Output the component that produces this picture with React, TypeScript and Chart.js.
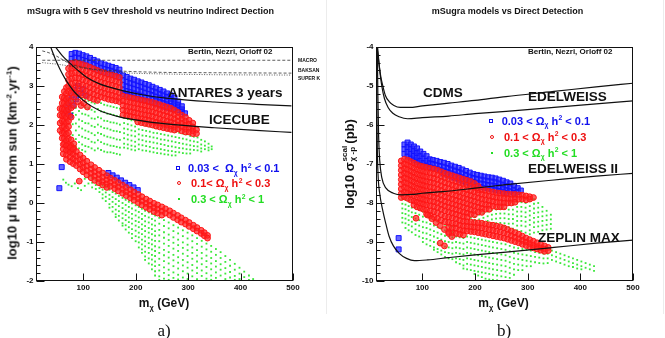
import React, { useEffect, useRef } from 'react';
import { Chart, registerables } from 'chart.js';

Chart.register(...registerables);

type Pt = [number, number];
type Col = [number, number[]];

/* ---------------- panel a: muon flux from the Sun ---------------- */
const massMinA = 10;
const massMax = 500;
const fluxMin = -2;
const fluxMax = 4;
const massTicks = [100, 200, 300, 400, 500];
const fluxTicks = [4, 3, 2, 1, 0, -1, -2];

const antares: Pt[] = [[47, 4.0], [60, 3.78], [73.5, 3.6], [90, 3.4], [105, 3.24], [130, 3.06], [150, 2.97], [175, 2.88], [215, 2.77], [258, 2.69], [350, 2.59], [430, 2.53], [497, 2.49]];
const icecube: Pt[] = [[38, 4.0], [46, 3.72], [55, 3.45], [64, 3.22], [73, 3.03], [85, 2.82], [105, 2.58], [130, 2.38], [169, 2.21], [215, 2.1], [258, 2.03], [350, 1.93], [430, 1.86], [497, 1.81]];
const macro: Pt[] = [[22, 3.66], [497, 3.66]];
const baksan: Pt[] = [[22, 3.9], [35, 3.85], [50, 3.76], [65, 3.64], [81, 3.54], [110, 3.45], [140, 3.41], [176, 3.38], [250, 3.35], [350, 3.34], [497, 3.33]];
const superK: Pt[] = [[22, 3.6], [35, 3.58], [50, 3.56], [65, 3.53], [81, 3.5], [110, 3.44], [140, 3.38], [176, 3.34], [250, 3.31], [350, 3.29], [497, 3.28]];

// 0.03 < Omega h^2 < 0.1
const fluxBlue: Col[] = [
  [78, [3.82, 3.7, 3.58]], [85, [3.85, 3.73, 3.61]], [92, [3.83, 3.71, 3.58]], [99, [3.79, 3.67, 3.55]],
  [106, [3.76, 3.64, 3.52]], [113, [3.72, 3.6, 3.49]], [120, [3.67, 3.56, 3.45]], [127, [3.63, 3.52, 3.41]],
  [134, [3.58, 3.47, 3.37]], [141, [3.55, 3.44, 3.34]], [148, [3.52, 3.41, 3.31]], [155, [3.49, 3.39, 3.29]],
  [162, [3.46, 3.35, 3.25]], [169, [3.42, 3.32, 3.22]],
  [176, [3.27, 3.15, 3.03, 2.91, 2.79]], [183, [3.23, 3.11, 2.99, 2.87, 2.76]], [190, [3.19, 3.07, 2.96, 2.84, 2.73]],
  [197, [3.16, 3.04, 2.93, 2.81, 2.7]], [204, [3.12, 3.01, 2.9, 2.78, 2.67]], [211, [3.09, 2.98, 2.86, 2.75, 2.64]],
  [218, [3.05, 2.94, 2.83, 2.72, 2.62]], [225, [3.02, 2.91, 2.8, 2.69, 2.59]], [232, [2.98, 2.87, 2.77, 2.66, 2.56]],
  [239, [2.94, 2.84, 2.73, 2.63, 2.53]], [246, [2.9, 2.8, 2.7, 2.6, 2.5]], [253, [2.86, 2.76, 2.66, 2.56, 2.47]],
  [260, [2.81, 2.72, 2.62, 2.53, 2.44]], [267, [2.76, 2.67, 2.58, 2.49, 2.41]], [274, [2.7, 2.61, 2.53, 2.45, 2.38]],
  [281, [2.6, 2.52, 2.45, 2.38]], [288, [2.48, 2.4, 2.33]], [294, [2.3]],
];
const fluxBlueLoose: Pt[] = [
  [68, 2.3], [70, 2.46], [72, 2.62], [75, 2.24], [78, 2.76], [80, 2.5], [83, 2.9], [86, 2.66], [90, 3.0], [95, 2.82],
  [100, 2.92], [106, 2.76], [148, 0.77], [156, 0.71], [164, 0.65], [172, 0.58], [180, 0.52], [188, 0.46], [196, 0.4],
  [204, 0.33], [59, 0.92], [54.5, 0.38],
];

// 0.1 < Omega h^2 < 0.3
const fluxRed: Col[] = [
  [72, [3.45, 3.3, 3.15]], [78, [3.58, 3.45, 3.32, 3.19, 3.06, 2.93]], [85, [3.6, 3.47, 3.34, 3.21, 3.08, 2.95, 2.82]],
  [92, [3.58, 3.45, 3.32, 3.2, 3.06, 2.93, 2.8]], [99, [3.55, 3.42, 3.29, 3.16, 3.03, 2.9, 2.77]],
  [106, [3.52, 3.39, 3.26, 3.13, 3.0, 2.87, 2.74]], [113, [3.48, 3.35, 3.22, 3.09, 2.96, 2.83, 2.7]],
  [120, [3.44, 3.31, 3.18, 3.05, 2.92, 2.79, 2.66]], [127, [3.4, 3.27, 3.14, 3.01, 2.88, 2.75, 2.63]],
  [134, [3.36, 3.23, 3.1, 2.97, 2.84, 2.72]], [141, [3.33, 3.2, 3.07, 2.94, 2.81, 2.69]],
  [148, [3.3, 3.17, 3.04, 2.91, 2.78, 2.66]], [155, [3.28, 3.15, 3.02, 2.89, 2.76, 2.64]],
  [162, [3.25, 3.12, 2.99, 2.86, 2.73, 2.62]], [169, [3.22, 3.09, 2.96, 2.83, 2.7, 2.6]],
  [176, [2.74, 2.62, 2.5, 2.38, 2.26]], [183, [2.72, 2.6, 2.48, 2.36, 2.24]], [190, [2.7, 2.58, 2.46, 2.34, 2.22]],
  [197, [2.68, 2.56, 2.44, 2.32, 2.2]], [204, [2.66, 2.54, 2.42, 2.3, 2.18, 2.08]], [211, [2.64, 2.52, 2.4, 2.28, 2.16, 2.06]],
  [218, [2.62, 2.5, 2.38, 2.26, 2.14, 2.04]], [225, [2.6, 2.48, 2.36, 2.24, 2.12, 2.02]], [232, [2.58, 2.46, 2.34, 2.22, 2.1, 2.0]],
  [239, [2.55, 2.43, 2.31, 2.19, 2.07, 1.97]], [246, [2.52, 2.4, 2.28, 2.16, 2.05, 1.95]], [253, [2.49, 2.37, 2.25, 2.13, 2.02, 1.93]],
  [260, [2.46, 2.34, 2.22, 2.1, 2.0, 1.91]], [267, [2.43, 2.31, 2.19, 2.08, 1.98, 1.89]], [274, [2.38, 2.27, 2.16, 2.05, 1.95, 1.87]],
  [281, [2.32, 2.21, 2.1, 2.0, 1.9]], [288, [2.25, 2.15, 2.05, 1.95, 1.85]], [295, [2.2, 2.1, 2.0, 1.9, 1.82]],
  [302, [2.12, 2.02, 1.92, 1.82]], [309, [2.05, 1.95, 1.85, 1.78]], [316, [1.88, 1.78]],
  [56, [2.42, 2.25, 2.05, 1.86]], [60, [2.72, 2.56, 2.41, 2.24, 2.1, 1.94, 1.79, 1.66]],
  [64, [2.86, 2.7, 2.56, 2.4, 2.26, 2.1, 1.96, 1.8, 1.66, 1.52]],
  [68, [2.96, 2.81, 2.66, 2.5, 2.36, 2.2, 2.06, 1.9, 1.76, 1.6, 1.46]],
  [72, [3.0, 2.86, 2.7, 2.56, 2.4, 2.26, 2.1, 1.96, 1.8, 1.65, 1.5, 1.38]],
  [77, [2.82, 2.62, 2.44, 2.2, 1.62, 1.46, 1.34]], [82, [2.72, 2.5, 1.52, 1.4]],
  [62, [1.5, 1.38, 1.26]], [68, [1.47, 1.35, 1.23, 1.12]], [75, [1.42, 1.3, 1.18, 1.06]], [81, [1.37, 1.25, 1.13, 1.01]],
  [87, [1.32, 1.2, 1.08, 0.96]], [94, [1.23, 1.11, 0.99, 0.87]], [100, [1.15, 1.03, 0.91, 0.8]], [107, [1.07, 0.95, 0.83, 0.72]],
  [115, [0.98, 0.87, 0.76, 0.65]], [122, [0.91, 0.8, 0.69, 0.58]], [130, [0.84, 0.73, 0.62, 0.52]], [137, [0.77, 0.66, 0.55, 0.46]],
  [145, [0.7, 0.59, 0.49, 0.4]], [152, [0.64, 0.53, 0.43]], [160, [0.58, 0.47, 0.37]], [167, [0.52, 0.41, 0.31]],
  [175, [0.46, 0.35, 0.25]], [182, [0.4, 0.29, 0.19]], [190, [0.34, 0.23, 0.13]], [197, [0.28, 0.17, 0.07]],
  [205, [0.22, 0.11, 0.01]], [212, [0.16, 0.05, -0.05]], [220, [0.1, -0.01, -0.11]], [227, [0.05, -0.06, -0.16]],
  [235, [-0.01, -0.12, -0.22]], [242, [-0.05, -0.16, -0.26]], [250, [-0.1, -0.21, -0.31]], [257, [-0.15, -0.26]],
  [265, [-0.2, -0.31]], [272, [-0.26, -0.37]], [280, [-0.32, -0.43]], [287, [-0.38, -0.49]], [295, [-0.44, -0.54]],
  [302, [-0.5, -0.6]], [310, [-0.57, -0.66]], [317, [-0.63, -0.72]], [325, [-0.7, -0.78]], [331, [-0.76, -0.84]],
  [337, [-0.83, -0.9]],
];
const fluxRedLoose: Pt[] = [[90, 2.6], [96, 2.5], [101, 2.56], [108, 2.46], [92.5, 0.56]];

// 0.3 < Omega h^2 < 1
const fluxGreen: Col[] = [
  [80, [2.9, 2.62, 2.31, 2.02, 1.74, 1.5]], [86, [2.84, 2.66, 2.44, 2.26, 2.04, 1.86, 1.64, 1.45]],
  [92, [2.76, 2.54, 2.36, 2.14, 1.96, 1.74, 1.56, 1.4]], [98, [2.7, 2.51, 2.29, 2.1, 1.91, 1.7, 1.5, 1.36]],
  [104, [2.66, 2.45, 2.27, 2.05, 1.86, 1.67, 1.46, 1.32]], [110, [2.62, 2.43, 2.24, 2.04, 1.83, 1.64, 1.44]],
  [116, [2.58, 2.39, 2.17, 1.98, 1.79, 1.57, 1.4]], [122, [2.55, 2.34, 2.16, 1.95, 1.74, 1.55, 1.35]],
  [128, [2.6, 2.41, 2.2, 2.01, 1.8, 1.61, 1.4]], [134, [2.56, 2.35, 2.17, 1.96, 1.77, 1.56, 1.36]],
  [140, [2.52, 2.33, 2.11, 1.92, 1.73, 1.52, 1.32]], [146, [2.5, 2.29, 2.1, 1.91, 1.7, 1.5, 1.3]],
  [152, [2.48, 2.28, 2.07, 1.88, 1.68, 1.47, 1.3]], [158, [2.46, 2.26, 2.06, 1.85, 1.66, 1.46, 1.28]],
  [164, [2.44, 2.23, 2.04, 1.84, 1.63, 1.44, 1.26]], [170, [2.42, 2.22, 2.01, 1.82, 1.62, 1.42, 1.24]],
  [178, [2.18, 2.05, 1.91, 1.79, 1.66, 1.52, 1.42]], [185, [2.15, 2.02, 1.89, 1.75, 1.63, 1.5, 1.4]],
  [192, [2.12, 1.99, 1.86, 1.73, 1.6, 1.47, 1.37]], [199, [2.1, 1.96, 1.84, 1.71, 1.57, 1.45, 1.35]],
  [206, [2.02, 1.89, 1.76, 1.63, 1.5, 1.38]], [213, [2.0, 1.87, 1.73, 1.61, 1.48, 1.35]],
  [220, [1.98, 1.85, 1.72, 1.58, 1.46, 1.34]], [227, [1.96, 1.83, 1.7, 1.57, 1.44, 1.32]],
  [234, [1.94, 1.8, 1.68, 1.55, 1.41, 1.3]], [241, [1.92, 1.79, 1.66, 1.53, 1.4, 1.28]],
  [248, [1.9, 1.77, 1.63, 1.51, 1.38, 1.27]], [255, [1.88, 1.75, 1.62, 1.49, 1.36, 1.25]],
  [262, [1.86, 1.73, 1.6, 1.46, 1.34, 1.24]], [269, [1.84, 1.71, 1.58, 1.45, 1.33, 1.22]],
  [276, [1.82, 1.69, 1.56, 1.43, 1.31, 1.22]], [283, [1.8, 1.67, 1.54, 1.41, 1.3]],
  [290, [1.78, 1.65, 1.52, 1.4, 1.28]], [297, [1.76, 1.63, 1.5, 1.38, 1.27]], [304, [1.72, 1.6, 1.48, 1.37, 1.27]],
  [311, [1.7, 1.58, 1.46, 1.36]], [318, [1.68, 1.56, 1.45, 1.35]], [325, [1.62, 1.5, 1.4, 1.32]],
  [332, [1.58, 1.47, 1.38]], [339, [1.52, 1.42, 1.35]], [345, [1.45, 1.38]],
  [62, [0.6]], [67, [0.52]], [72, [0.47]], [78, [0.43]], [84, [0.5]], [90, [0.38]], [96, [0.33]],
  [103, [0.62, 0.44]], [110, [0.66, 0.5]], [117, [0.64, 0.52, 0.4]], [124, [0.58, 0.46, 0.36]],
  [131, [0.5, 0.38, 0.28]], [137, [0.45, 0.34, 0.22, 0.12]], [143, [0.4, 0.27, 0.16, 0.05]],
  [150, [0.34, 0.21, 0.1, -0.03, -0.12]], [156, [0.28, 0.15, 0.03, -0.1, -0.22]],
  [162, [0.24, 0.1, -0.03, -0.17, -0.29, -0.36]], [168, [0.18, 0.05, -0.08, -0.21, -0.33, -0.45]],
  [175, [0.13, 0.0, -0.13, -0.27, -0.39, -0.52, -0.58]], [181, [0.08, -0.05, -0.19, -0.31, -0.44, -0.57, -0.68]],
  [187, [0.03, -0.1, -0.23, -0.37, -0.49, -0.62, -0.76]], [193, [-0.01, -0.14, -0.28, -0.4, -0.53, -0.67, -0.79, -0.9]],
  [200, [-0.06, -0.19, -0.32, -0.46, -0.58, -0.71, -0.85, -0.98]],
  [206, [-0.1, -0.23, -0.37, -0.49, -0.62, -0.76, -0.88, -1.01, -1.14]],
  [212, [-0.15, -0.28, -0.41, -0.55, -0.67, -0.8, -0.94, -1.06, -1.19, -1.28]],
  [218, [-0.2, -0.33, -0.47, -0.59, -0.72, -0.86, -0.98, -1.11, -1.25, -1.37, -1.46]],
  [225, [-0.24, -0.37, -0.5, -0.64, -0.76, -0.89, -1.03, -1.15, -1.28, -1.42, -1.55]],
  [231, [-0.28, -0.41, -0.55, -0.67, -0.8, -0.94, -1.06, -1.19, -1.33, -1.45, -1.58, -1.7]],
  [237, [-0.32, -0.45, -0.58, -0.72, -0.84, -0.97, -1.11, -1.23, -1.36, -1.5, -1.62, -1.75, -1.86]],
  [245, [-0.38, -0.53, -0.69, -0.83, -0.98, -1.14, -1.28, -1.43, -1.59, -1.73, -1.88, -1.97]],
  [254, [-0.44, -0.59, -0.75, -0.89, -1.04, -1.2, -1.34, -1.49, -1.65, -1.79, -1.94]],
  [263, [-0.5, -0.65, -0.81, -0.95, -1.1, -1.26, -1.4, -1.55, -1.71, -1.85, -1.97]],
  [272, [-0.57, -0.72, -0.88, -1.02, -1.17, -1.33, -1.47, -1.62, -1.78, -1.92]],
  [281, [-0.63, -0.78, -0.94, -1.08, -1.23, -1.39, -1.53, -1.68, -1.84, -1.96]],
  [290, [-0.7, -0.85, -1.01, -1.15, -1.3, -1.46, -1.6, -1.75, -1.91]],
  [299, [-0.76, -0.91, -1.07, -1.21, -1.36, -1.52, -1.66, -1.81, -1.95]],
  [308, [-0.83, -0.98, -1.14, -1.28, -1.43, -1.59, -1.73, -1.88]],
  [317, [-0.9, -1.05, -1.21, -1.35, -1.5, -1.66, -1.8, -1.95]],
  [326, [-0.97, -1.12, -1.28, -1.42, -1.57, -1.73, -1.87]],
  [335, [-1.04, -1.19, -1.35, -1.49, -1.64, -1.8, -1.94]],
  [344, [-1.1, -1.25, -1.41, -1.55, -1.7, -1.86, -1.97]],
  [353, [-1.18, -1.33, -1.49, -1.63, -1.78, -1.92]], [362, [-1.26, -1.41, -1.57, -1.71, -1.86]],
  [371, [-1.36, -1.51, -1.67, -1.81, -1.95]], [380, [-1.46, -1.61, -1.77, -1.91]],
  [389, [-1.56, -1.71, -1.87, -1.97]], [398, [-1.66, -1.81, -1.95]], [407, [-1.76, -1.9]],
  [416, [-1.86, -1.97]], [424, [-1.95]],
];

/* ---------------- panel b: scalar cross-section ---------------- */
const massMinB = 12;
const sigmaMin = -10;
const sigmaMax = -4;
const sigmaTicks = [-4, -5, -6, -7, -8, -9, -10];

const cdms: Pt[] = [[14, -4.0], [17, -4.35], [21, -4.75], [25, -5.0], [30, -5.25], [37, -5.4], [46, -5.5], [58, -5.55], [75, -5.55], [100, -5.51], [150, -5.44], [200, -5.37], [259, -5.27], [350, -5.14], [430, -5.02], [500, -4.93]];
const edelweiss: Pt[] = [[15, -4.0], [19, -4.6], [23, -5.0], [28, -5.32], [35, -5.55], [44, -5.7], [56, -5.79], [72, -5.84], [100, -5.81], [150, -5.77], [200, -5.71], [259, -5.65], [350, -5.55], [430, -5.46], [500, -5.38]];
const edelweiss2: Pt[] = [[14.5, -4.0], [15.5, -5.2], [17, -6.3], [19, -6.9], [23, -7.35], [31, -7.62], [45, -7.75], [61, -7.79], [80, -7.78], [100, -7.75], [139, -7.71], [200, -7.62], [259, -7.53], [350, -7.41], [430, -7.31], [500, -7.24]];
const zeplinMax: Pt[] = [[13, -4.0], [13.6, -5.5], [14.5, -6.6], [16, -7.3], [19, -7.75], [25, -8.2], [31, -8.55], [37, -8.86], [45, -9.1], [56, -9.29], [70, -9.42], [85, -9.48], [110, -9.46], [150, -9.4], [200, -9.33], [259, -9.26], [350, -9.14], [430, -9.03], [500, -8.95]];

const sigmaBlue: Col[] = [
  [66, [-6.5, -6.62, -6.74]], [72, [-6.45, -6.57, -6.69, -6.81]], [78, [-6.5, -6.62, -6.74, -6.86]],
  [84, [-6.55, -6.67, -6.79, -6.91]], [90, [-6.6, -6.72, -6.84, -6.96]], [96, [-6.68, -6.8, -6.92, -7.02]],
  [102, [-6.74, -6.86, -6.98, -7.06]], [108, [-6.8, -6.92, -7.04]], [114, [-6.88, -6.98, -7.08]],
  [120, [-6.9, -7.0, -7.1]], [127, [-6.92, -7.02, -7.12]], [134, [-6.95, -7.05, -7.15]],
  [141, [-6.97, -7.07, -7.17, -7.25]], [148, [-7.0, -7.1, -7.2, -7.28]], [155, [-7.04, -7.14, -7.24, -7.32]],
  [162, [-7.07, -7.17, -7.27, -7.36]], [169, [-7.1, -7.2, -7.3, -7.4]], [176, [-7.14, -7.24, -7.34, -7.44]],
  [183, [-7.18, -7.28, -7.38, -7.47]], [190, [-7.22, -7.32, -7.42, -7.5]], [197, [-7.26, -7.36, -7.46, -7.54]],
  [204, [-7.28, -7.38, -7.48, -7.57]], [211, [-7.3, -7.4, -7.5, -7.59]], [218, [-7.32, -7.42, -7.52, -7.61]],
  [225, [-7.34, -7.44, -7.54, -7.63]], [232, [-7.35, -7.45, -7.55, -7.65]], [239, [-7.37, -7.47, -7.57, -7.67]],
  [246, [-7.4, -7.5, -7.6, -7.69]], [253, [-7.43, -7.53, -7.63, -7.71]], [260, [-7.47, -7.57, -7.67, -7.74]],
  [267, [-7.5, -7.6, -7.7]], [274, [-7.56, -7.66, -7.74]], [281, [-7.62, -7.72]], [287, [-7.68]],
];
const sigmaBlueLoose: Pt[] = [[55, -8.9], [55, -9.19]];

const sigmaRed: Col[] = [
  [60, [-6.92, -7.04, -7.16, -7.28, -7.4, -7.52, -7.64, -7.76, -7.86]],
  [66, [-6.88, -7.0, -7.12, -7.24, -7.36, -7.48, -7.6, -7.72, -7.84]],
  [72, [-6.9, -7.02, -7.14, -7.26, -7.38, -7.5, -7.62, -7.74, -7.88]],
  [78, [-6.94, -7.06, -7.18, -7.3, -7.42, -7.54, -7.66, -7.78, -7.92]],
  [84, [-6.98, -7.1, -7.22, -7.34, -7.46, -7.58, -7.7, -7.82, -7.95, -8.05]],
  [90, [-7.02, -7.14, -7.26, -7.38, -7.5, -7.62, -7.74, -7.86, -7.98, -8.1]],
  [96, [-7.05, -7.17, -7.29, -7.41, -7.53, -7.65, -7.77, -7.89, -8.01, -8.13]],
  [102, [-7.07, -7.19, -7.31, -7.43, -7.55, -7.67, -7.79, -7.91, -8.03, -8.16]],
  [108, [-7.09, -7.21, -7.33, -7.45, -7.57, -7.69, -7.81, -7.93, -8.05, -8.18, -8.28]],
  [115, [-7.11, -7.23, -7.35, -7.47, -7.59, -7.71, -7.83, -7.95, -8.07, -8.2, -8.32]],
  [122, [-7.13, -7.25, -7.37, -7.49, -7.61, -7.73, -7.85, -7.97, -8.09, -8.22, -8.36]],
  [129, [-7.16, -7.28, -7.4, -7.52, -7.64, -7.76, -7.88, -8.0, -8.12, -8.25, -8.4]],
  [136, [-7.2, -7.32, -7.44, -7.56, -7.68, -7.8, -7.92, -8.04, -8.16, -8.3, -8.44]],
  [143, [-7.24, -7.36, -7.48, -7.6, -7.72, -7.84, -7.96, -8.08, -8.2, -8.34, -8.48]],
  [150, [-7.27, -7.39, -7.51, -7.63, -7.75, -7.87, -7.99, -8.11, -8.23, -8.36, -8.5]],
  [157, [-7.3, -7.42, -7.54, -7.66, -7.78, -7.9, -8.02, -8.14, -8.26, -8.38, -8.52]],
  [164, [-7.33, -7.45, -7.57, -7.69, -7.81, -7.93, -8.05, -8.17, -8.29, -8.41]],
  [171, [-7.36, -7.48, -7.6, -7.72, -7.84, -7.96, -8.08, -8.2, -8.32]],
  [178, [-7.39, -7.51, -7.63, -7.75, -7.87, -7.99, -8.11, -8.23, -8.35]],
  [185, [-7.42, -7.54, -7.66, -7.78, -7.9, -8.02, -8.14, -8.26, -8.36]],
  [192, [-7.45, -7.57, -7.69, -7.81, -7.93, -8.05, -8.17, -8.29]],
  [199, [-7.5, -7.6, -7.72, -7.84, -7.96, -8.08, -8.2, -8.3]],
  [206, [-7.57, -7.66, -7.75, -7.87, -7.99, -8.11, -8.23]],
  [213, [-7.66, -7.78, -7.9, -8.02, -8.14, -8.24]],
  [220, [-7.68, -7.8, -7.92, -8.04, -8.16]], [227, [-7.7, -7.82, -7.94, -8.06, -8.16]],
  [234, [-7.72, -7.84, -7.96, -8.08]], [241, [-7.74, -7.86, -7.98, -8.1]],
  [248, [-7.75, -7.87, -7.99, -8.1]], [255, [-7.76, -7.88, -8.0, -8.1]],
  [262, [-7.77, -7.89, -8.0]], [269, [-7.78, -7.9, -8.0]], [276, [-7.78, -7.9, -7.98]],
  [283, [-7.79, -7.9]], [290, [-7.8, -7.9]], [297, [-7.82, -7.92]], [304, [-7.84, -7.9]], [311, [-7.86]],
  [150, [-8.62, -8.74]], [157, [-8.64, -8.76]], [164, [-8.53, -8.65, -8.78]], [171, [-8.45, -8.57, -8.69, -8.8]],
  [178, [-8.47, -8.59, -8.71, -8.82]], [185, [-8.48, -8.6, -8.72]], [192, [-8.49, -8.61, -8.73]],
  [199, [-8.5, -8.62, -8.74]], [206, [-8.51, -8.63, -8.76]], [213, [-8.52, -8.64, -8.78]],
  [220, [-8.54, -8.66, -8.8]], [227, [-8.56, -8.68, -8.82]], [234, [-8.57, -8.7, -8.84]],
  [241, [-8.59, -8.72, -8.86]], [248, [-8.61, -8.74, -8.88]], [255, [-8.64, -8.77, -8.9]],
  [262, [-8.68, -8.8, -8.93]], [269, [-8.72, -8.84, -8.96]], [276, [-8.76, -8.88, -8.99]],
  [283, [-8.8, -8.92, -9.02]], [290, [-8.85, -8.96, -9.06]], [297, [-8.9, -9.0, -9.09]],
  [304, [-8.94, -9.04, -9.12]], [311, [-8.98, -9.08, -9.15]], [318, [-9.02, -9.12, -9.18]],
  [325, [-9.06, -9.15, -9.21]], [332, [-9.1, -9.18, -9.24]], [339, [-9.14, -9.22]],
];
const sigmaRedLoose: Pt[] = [[88, -8.39], [110, -8.31], [118, -8.4], [126, -8.5], [134, -8.58], [142, -8.68], [150, -8.78], [156, -8.86], [134, -9.03], [142, -9.1]];

const sigmaGreen: Col[] = [
  [62, [-7.9, -8.02, -8.14, -8.26, -8.38, -8.5]], [68, [-7.92, -8.04, -8.16, -8.28, -8.4, -8.52, -8.64]],
  [74, [-7.96, -8.08, -8.2, -8.32, -8.44, -8.56, -8.7]], [80, [-8.0, -8.12, -8.24, -8.36, -8.48, -8.6, -8.75]],
  [87, [-8.12, -8.26, -8.4, -8.54, -8.68, -8.82]], [94, [-8.18, -8.3, -8.44, -8.58, -8.72, -8.86]],
  [101, [-8.22, -8.35, -8.48, -8.62, -8.76, -8.9, -9.0]], [108, [-8.36, -8.5, -8.64, -8.78, -8.92, -9.06]],
  [115, [-8.4, -8.54, -8.68, -8.82, -8.96, -9.1]], [122, [-8.45, -8.58, -8.72, -8.86, -9.0, -9.14, -9.2]],
  [129, [-8.48, -8.62, -8.76, -8.9, -9.04, -9.18, -9.26]], [136, [-8.52, -8.66, -8.8, -8.94, -9.08, -9.22, -9.32]],
  [143, [-8.56, -8.7, -8.84, -8.98, -9.12, -9.26, -9.38]], [150, [-8.58, -8.72, -8.86, -9.0, -9.14, -9.28, -9.42]],
  [157, [-8.6, -8.74, -8.88, -9.02, -9.16, -9.3, -9.44]], [164, [-8.86, -9.0, -9.14, -9.28, -9.42, -9.52]],
  [171, [-8.88, -9.02, -9.16, -9.3, -9.44, -9.56]], [178, [-8.9, -9.04, -9.18, -9.32, -9.46, -9.6, -9.68]],
  [185, [-8.86, -9.0, -9.14, -9.28, -9.42, -9.56, -9.7]], [192, [-8.88, -9.02, -9.16, -9.3, -9.44, -9.58, -9.72]],
  [199, [-8.9, -9.04, -9.18, -9.32, -9.46, -9.6, -9.74, -9.82]], [206, [-8.92, -9.06, -9.2, -9.34, -9.48, -9.62, -9.76, -9.86]],
  [213, [-8.94, -9.08, -9.22, -9.36, -9.5, -9.64, -9.78, -9.9]], [220, [-8.96, -9.1, -9.24, -9.38, -9.52, -9.66, -9.8, -9.94]],
  [227, [-8.98, -9.12, -9.26, -9.4, -9.54, -9.68, -9.82, -9.96]], [234, [-9.0, -9.14, -9.28, -9.42, -9.56, -9.7, -9.84, -9.97]],
  [242, [-9.02, -9.16, -9.3, -9.44, -9.58, -9.72, -9.86, -9.98]], [250, [-9.04, -9.18, -9.32, -9.46, -9.6, -9.74, -9.88]],
  [258, [-9.06, -9.2, -9.34, -9.48, -9.62, -9.76, -9.9]], [266, [-9.1, -9.24, -9.38, -9.52, -9.66, -9.8, -9.92]],
  [274, [-9.14, -9.28, -9.42, -9.56, -9.7, -9.84]], [282, [-9.16, -9.3, -9.44, -9.58, -9.72]],
  [290, [-9.18, -9.32, -9.46, -9.6, -9.72]], [298, [-9.2, -9.34, -9.48, -9.62]], [306, [-9.22, -9.36, -9.5, -9.62]],
  [314, [-9.26, -9.38, -9.52]], [322, [-9.28, -9.4, -9.54]], [330, [-9.3, -9.42, -9.55]], [338, [-9.3, -9.42, -9.54]],
  [346, [-9.22, -9.34, -9.46]], [354, [-9.26, -9.38, -9.5]], [362, [-9.3, -9.42, -9.54]], [370, [-9.34, -9.46, -9.58]],
  [378, [-9.38, -9.5, -9.62]], [386, [-9.42, -9.54, -9.64]], [394, [-9.46, -9.58, -9.68]], [402, [-9.5, -9.62, -9.7]],
  [410, [-9.54, -9.66]], [418, [-9.58, -9.7]], [426, [-9.62, -9.74]],
  [192, [-8.38]], [200, [-8.36, -8.44]], [208, [-8.3, -8.42]], [216, [-8.26, -8.38, -8.48]],
  [224, [-8.22, -8.34, -8.46]], [232, [-8.18, -8.3, -8.42, -8.52]], [240, [-8.16, -8.28, -8.4, -8.52]],
  [248, [-8.15, -8.27, -8.39, -8.51]], [256, [-8.15, -8.27, -8.39, -8.52, -8.6]],
  [264, [-8.05, -8.17, -8.29, -8.41, -8.53, -8.62]], [272, [-8.05, -8.17, -8.29, -8.41, -8.53, -8.66]],
  [280, [-7.98, -8.1, -8.22, -8.34, -8.46, -8.58, -8.7]], [288, [-7.98, -8.1, -8.22, -8.34, -8.46, -8.58, -8.72]],
  [296, [-8.0, -8.12, -8.24, -8.36, -8.48, -8.6, -8.76]], [304, [-7.95, -8.08, -8.2, -8.32, -8.44, -8.56, -8.7, -8.8]],
  [312, [-7.9, -8.02, -8.14, -8.26, -8.38, -8.5, -8.62, -8.76]], [320, [-8.0, -8.12, -8.24, -8.36, -8.48, -8.6, -8.74]],
  [328, [-8.1, -8.22, -8.34, -8.46, -8.58, -8.7]], [336, [-8.2, -8.32, -8.44, -8.56, -8.68]], [344, [-8.3, -8.42, -8.54, -8.66]],
];

/* ---------------- dataset helpers ---------------- */
const unpack = (cols: Col[]) => cols.flatMap(([x, ys]) => ys.map((y) => ({ x, y })));
const toXY = (pts: Pt[]) => pts.map(([x, y]) => ({ x, y }));

const BLUE = '#1212ff';
const RED = '#ff1414';
const GREEN = '#3be83b';
const BLUE_FILL = 'rgba(40,40,255,0.7)';
const RED_FILL = 'rgba(255,35,35,0.72)';

const blueSet = (data: any[]) => ({
  data, pointStyle: 'rect', pointRadius: 3.5, pointBorderWidth: 1,
  borderColor: BLUE, pointBorderColor: BLUE, backgroundColor: BLUE_FILL, pointBackgroundColor: BLUE_FILL, order: 3,
});
const redSet = (data: any[]) => ({
  data, pointStyle: 'circle', pointRadius: 2.9, pointBorderWidth: 1,
  borderColor: RED, pointBorderColor: RED, backgroundColor: RED_FILL, pointBackgroundColor: RED_FILL, order: 2,
});
const greenSet = (data: any[]) => ({
  data, pointStyle: 'rect', pointRadius: 1.3, pointBorderWidth: 0,
  borderColor: GREEN, pointBorderColor: GREEN, backgroundColor: GREEN, pointBackgroundColor: GREEN, order: 4,
});
const lineSet = (pts: Pt[], dash: number[] = [], width = 1.2, color = '#111') => ({
  data: toXY(pts), showLine: true, pointRadius: 0, borderColor: color, borderWidth: width, borderDash: dash,
  cubicInterpolationMode: 'monotone', clip: 0, order: 0, fill: false,
});

const FONT = '"Liberation Sans", Arial, Helvetica, sans-serif';

// frame, inward ticks and tick labels drawn from the chart's own scales
const frameAxes = (xTicks: number[], yTicks: number[], yMinorStep: number) => ({
  id: 'frameAxes',
  afterDatasetsDraw(chart: any) {
    const { ctx, chartArea: a, scales } = chart;
    const sx = scales.x;
    const sy = scales.y;
    const L = Math.round(a.left) + 0.5;
    const R = Math.round(a.right) - 0.5;
    const T = Math.round(a.top) + 0.5;
    const B = Math.round(a.bottom) - 0.5;
    ctx.save();
    ctx.strokeStyle = '#111';
    ctx.lineWidth = 1;
    ctx.strokeRect(L, T, R - L, B - T);
    ctx.beginPath();
    xTicks.forEach((v) => {
      const px = Math.round(sx.getPixelForValue(v)) + 0.5;
      ctx.moveTo(px, B);
      ctx.lineTo(px, B - 7);
    });
    const n = Math.round((sy.max - sy.min) / yMinorStep);
    for (let i = 0; i <= n; i++) {
      const v = sy.min + i * yMinorStep;
      const py = Math.round(sy.getPixelForValue(v)) + 0.5;
      const major = Math.abs(v - Math.round(v)) < 1e-6;
      ctx.moveTo(L, py);
      ctx.lineTo(L + (major ? 8 : 4), py);
    }
    ctx.stroke();
    ctx.fillStyle = '#111';
    ctx.font = `bold 8px ${FONT}`;
    ctx.textAlign = 'center';
    ctx.textBaseline = 'top';
    xTicks.forEach((v) => ctx.fillText(String(v), sx.getPixelForValue(v), B + 3.5));
    ctx.textAlign = 'right';
    ctx.textBaseline = 'middle';
    yTicks.forEach((v) => ctx.fillText(String(v), L - 3, sy.getPixelForValue(v)));
    ctx.restore();
  },
});

function Panel(props: {
  left: number; width: number; height: number; padding: any;
  xRange: number[]; yRange: number[]; xTicks: number[]; yTicks: number[]; datasets: any[];
}) {
  const ref = useRef<HTMLCanvasElement>(null);
  useEffect(() => {
    const chart = new Chart(ref.current as HTMLCanvasElement, {
      type: 'scatter',
      data: { datasets: props.datasets },
      options: {
        responsive: false,
        animation: false,
        devicePixelRatio: 1,
        events: [],
        layout: { padding: props.padding },
        plugins: { legend: { display: false }, tooltip: { enabled: false }, title: { display: false } },
        scales: {
          x: { type: 'linear', min: props.xRange[0], max: props.xRange[1], display: false },
          y: { type: 'linear', min: props.yRange[0], max: props.yRange[1], display: false },
        },
      } as any,
      plugins: [frameAxes(props.xTicks, props.yTicks, 0.2)],
    });
    return () => chart.destroy();
  }, []);
  return (
    <canvas
      ref={ref}
      width={props.width}
      height={props.height}
      style={{ position: 'absolute', left: props.left, top: 0, width: props.width, height: props.height }}
    />
  );
}

const Sup = ({ children }: any) => (
  <span style={{ fontSize: '0.62em', position: 'relative', top: '-0.62em', marginLeft: '0.05em' }}>{children}</span>
);
const Sub = ({ children }: any) => (
  <span style={{ fontSize: '0.62em', position: 'relative', top: '0.38em' }}>{children}</span>
);

function Txt(props: { x: number; y: number; size: number; center?: boolean; color?: string; serif?: boolean; weight?: number; children: any }) {
  return (
    <div
      style={{
        position: 'absolute', left: props.x, top: props.y,
        transform: `translate(${props.center ? '-50%' : '0'}, -50%)`,
        fontSize: props.size, lineHeight: 1, whiteSpace: 'nowrap',
        fontWeight: props.weight ?? 700, color: props.color ?? '#111',
        fontFamily: props.serif ? '"Liberation Serif", "DejaVu Serif", serif' : FONT,
      }}
    >
      {props.children}
    </div>
  );
}

function Mark(props: { x: number; y: number; kind: 'sq' | 'ci' | 'dot'; color: string }) {
  const s = props.kind === 'dot' ? 2 : 4;
  return (
    <div
      style={{
        position: 'absolute', left: props.x - s / 2, top: props.y - s / 2, width: s, height: s, boxSizing: 'border-box',
        border: props.kind === 'dot' ? 'none' : `1px solid ${props.color}`,
        background: props.kind === 'dot' ? props.color : 'transparent',
        borderRadius: props.kind === 'ci' ? '50%' : 0,
      }}
    />
  );
}

const fluxDatasets = [
  lineSet(antares), lineSet(icecube),
  lineSet(macro, [3, 2], 0.8, '#333'), lineSet(baksan, [3, 2], 0.8, '#333'), lineSet(superK, [1, 1.5], 0.8, '#333'),
  greenSet(unpack(fluxGreen)),
  blueSet([...unpack(fluxBlue), ...toXY(fluxBlueLoose)]),
  redSet([...unpack(fluxRed), ...toXY(fluxRedLoose)]),
];

const sigmaDatasets = [
  lineSet(cdms), lineSet(edelweiss), lineSet(edelweiss2), lineSet(zeplinMax),
  greenSet(unpack(sigmaGreen)),
  blueSet([...unpack(sigmaBlue), ...toXY(sigmaBlueLoose)]),
  redSet([...unpack(sigmaRed), ...toXY(sigmaRedLoose)]),
];

const LG_BLUE = '#1010ee';
const LG_RED = '#ee1010';
const LG_GREEN = '#22dd22';

export default function App() {
  return (
    <div
      style={{
        position: 'absolute', left: 0, top: 0, width: 665, height: 338, background: '#fff',
        overflow: 'hidden', fontFamily: FONT, color: '#111',
      }}
    >
      <Panel
        left={0} width={330} height={300}
        padding={{ left: 36, top: 47, right: 37, bottom: 19 }}
        xRange={[massMinA, massMax]} yRange={[fluxMin, fluxMax]}
        xTicks={massTicks} yTicks={fluxTicks} datasets={fluxDatasets}
      />
      <Panel
        left={335} width={330} height={300}
        padding={{ left: 41, top: 47, right: 32, bottom: 19 }}
        xRange={[massMinB, massMax]} yRange={[sigmaMin, sigmaMax]}
        xTicks={massTicks} yTicks={sigmaTicks} datasets={sigmaDatasets}
      />

      <div style={{ position: 'absolute', left: 326, top: 0, width: 1, height: 314, background: '#ececec' }} />
      <div style={{ position: 'absolute', left: 663, top: 0, width: 1, height: 314, background: '#ececec' }} />

      {/* panel a */}
      <Txt x={150.5} y={10.5} size={9} center>mSugra with 5 GeV threshold vs neutrino Indirect Dection</Txt>
      <Txt x={188} y={51.7} size={8}>Bertin, Nezri, Orloff 02</Txt>
      <Txt x={298} y={60.3} size={5}>MACRO</Txt>
      <Txt x={298} y={70} size={5}>BAKSAN</Txt>
      <Txt x={298} y={78.3} size={5}>SUPER K</Txt>
      <Txt x={168} y={92.7} size={13.5}>ANTARES 3 years</Txt>
      <Txt x={209} y={120} size={13.5}>ICECUBE</Txt>
      <Mark x={178} y={168} kind="sq" color={LG_BLUE} />
      <Txt x={188} y={168} size={11} color={LG_BLUE}>{'0.03 <\u00a0 Ω'}<Sub>χ</Sub>{' h'}<Sup>2</Sup>{' < 0.1'}</Txt>
      <Mark x={179} y={183} kind="ci" color={LG_RED} />
      <Txt x={191} y={183} size={11} color={LG_RED}>{'0.1< Ω'}<Sub>χ</Sub>{' h'}<Sup>2</Sup>{' < 0.3'}</Txt>
      <Mark x={179} y={199} kind="dot" color={LG_GREEN} />
      <Txt x={191} y={199} size={11} color={LG_GREEN}>{'0.3 < Ω'}<Sub>χ</Sub>{' h'}<Sup>2</Sup>{' < 1'}</Txt>
      <Txt x={164} y={302.7} size={12} center>m<Sub>χ</Sub> (GeV)</Txt>
      <div
        style={{
          position: 'absolute', left: 12, top: 163, transform: 'translate(-50%, -50%) rotate(-90deg)',
          fontSize: 13, fontWeight: 700, lineHeight: 1, whiteSpace: 'nowrap',
        }}
      >
        log10 μ flux from sun (km<Sup>-2</Sup>.yr<Sup>-1</Sup>)
      </div>
      <Txt x={164} y={330} size={17} center serif weight={400}>a)</Txt>

      {/* panel b */}
      <Txt x={507.5} y={10.5} size={9} center>mSugra models vs Direct Detection</Txt>
      <Txt x={528} y={51.7} size={8}>Bertin, Nezri, Orloff 02</Txt>
      <Txt x={423} y={92.7} size={13.5}>CDMS</Txt>
      <Txt x={528} y={97.3} size={13.5}>EDELWEISS</Txt>
      <Txt x={528} y={169} size={13.5}>EDELWEISS II</Txt>
      <Txt x={538} y={237.7} size={13.5}>ZEPLIN MAX</Txt>
      <Mark x={490.7} y={120.7} kind="sq" color={LG_BLUE} />
      <Txt x={501.7} y={120.7} size={11} color={LG_BLUE}>{'0.03 < Ω'}<Sub>χ</Sub>{' h'}<Sup>2</Sup>{' < 0.1'}</Txt>
      <Mark x={491.7} y={136.7} kind="ci" color={LG_RED} />
      <Txt x={504} y={136.7} size={11} color={LG_RED}>{'0.1 < Ω'}<Sub>χ</Sub>{' h'}<Sup>2</Sup>{' < 0.3'}</Txt>
      <Mark x={491.7} y={152.7} kind="dot" color={LG_GREEN} />
      <Txt x={504} y={152.7} size={11} color={LG_GREEN}>{'0.3 < Ω'}<Sub>χ</Sub>{' h'}<Sup>2</Sup>{' < 1'}</Txt>
      <Txt x={503.5} y={302.7} size={12} center>m<Sub>χ</Sub> (GeV)</Txt>
      <div
        style={{
          position: 'absolute', left: 349, top: 163.5, transform: 'translate(-50%, -50%) rotate(-90deg)',
          fontSize: 13, fontWeight: 700, lineHeight: 1, whiteSpace: 'nowrap', display: 'flex', alignItems: 'center',
        }}
      >
        <span>log10 σ</span>
        <span style={{ display: 'inline-flex', flexDirection: 'column', fontSize: '0.62em', lineHeight: 1.05, margin: '0 2px 0 1px' }}>
          <span>scal</span>
          <span>χ -p</span>
        </span>
        <span>(pb)</span>
      </div>
      <Txt x={504} y={330} size={17} center serif weight={400}>b)</Txt>
    </div>
  );
}
